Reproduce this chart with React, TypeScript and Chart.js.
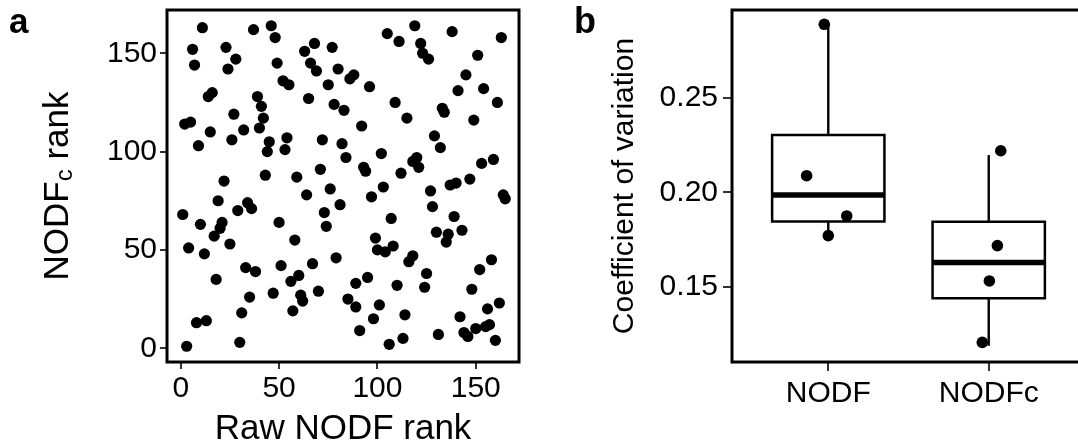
import { useEffect, useRef } from 'react';
import { Chart, registerables } from 'chart.js';

Chart.register(...registerables);

const FONT = "'Liberation Sans', Arial, Helvetica, sans-serif";

// ---- Panel a: rank vs rank ----
const rawRank = [
  11, 37, 46, 48, 6, 23, 28, 7, 24, 49, 68, 63, 77, 66, 69, 80, 88, 86, 52, 55,
  75, 14, 16, 39, 41, 42, 65, 78, 83, 27, 2, 5, 15, 32, 40, 92, 9, 26, 45, 44,
  54, 53, 72, 82, 84, 93, 71, 22, 43, 59,
  64, 76, 81, 19, 34, 36, 29, 1, 10, 21, 20, 17, 50, 73, 74, 25, 58, 4, 12, 79,
  33, 38, 51, 67, 60, 56, 18, 47, 35, 61, 62, 70, 89, 85, 89, 91, 31, 57, 8, 13,
  3, 30,
  105, 111, 119, 122, 123, 126, 138, 163, 151, 145, 96, 141, 154, 161, 109, 133,
  134, 115, 149, 129, 132, 102, 94, 118, 120, 121, 112, 153, 159, 147, 137, 140,
  103,
  97, 127, 128, 164, 165, 107, 139, 130, 136, 135, 143, 99, 100, 104, 108, 118,
  116, 125, 124, 110, 95, 101, 98, 106, 113, 114, 131, 158, 152, 148, 162, 156,
  142, 144, 146, 150, 155, 157, 160,
];
const correctedRank = [
  163, 162, 164, 158, 152, 153, 147, 144, 142, 145, 155, 151, 153, 145, 141, 142,
  139, 137, 136, 134, 134, 128, 130, 128, 123, 117, 127, 124, 121, 119, 114, 115,
  110, 111, 112, 113, 103, 106, 105, 100, 107, 101, 106, 104, 97, 92, 91, 85, 88,
  87,
  78, 81, 73, 75, 74, 71, 70, 68, 63, 64, 61, 57, 64, 69, 62, 53, 55, 51, 48, 46,
  41, 39, 42, 43, 37, 34, 35, 28, 26, 27, 24, 29, 33, 25, 21, 9, 18, 19, 13, 14,
  1, 3,
  160, 156, 164, 155, 150, 147, 161, 158, 149, 139, 133, 131, 132, 125, 125, 122,
  120, 117, 116, 108, 102, 99, 90, 95, 97, 92, 89, 94, 96, 86, 83, 84, 82,
  77, 80, 72, 78, 76, 66, 67, 59, 58, 54, 60, 56, 50, 49, 52, 47, 44, 38, 31, 32,
  36, 22, 15, 2, 5, 17, 7, 45, 40, 30, 23, 20, 16, 8, 6, 10, 11, 12, 4,
];
const rankTicks = [0, 50, 100, 150];

// ---- Panel b: coefficient of variation ----
const groups = ['NODF', 'NODFc'];
const cvTicks = [0.15, 0.2, 0.25];
const lowerWhisker = [0.1774, 0.1188];
const q1 = [0.1845, 0.1439];
const median = [0.1986, 0.1628];
const q3 = [0.2303, 0.1844];
const upperWhisker = [0.2887, 0.2197];
const pointGroup = [0, 0, 0, 0, 1, 1, 1, 1];
const pointJitter = [-0.025, -0.135, 0.115, 0, 0.075, 0.054, 0.004, -0.04];
const pointCV = [0.2889, 0.2088, 0.1875, 0.1771, 0.222, 0.1718, 0.1531, 0.1206];

const BOX_HALF = 0.35;

function framePlugin(id: string, lineWidth: number) {
  return {
    id,
    afterDatasetsDraw(chart: any) {
      const { ctx, chartArea: a } = chart;
      ctx.save();
      ctx.strokeStyle = '#000';
      ctx.lineWidth = lineWidth;
      ctx.strokeRect(a.left, a.top, a.right - a.left, a.bottom - a.top);
      ctx.restore();
    },
  };
}

function fixSize(dim: 'width' | 'height', size: number) {
  return (s: any) => {
    s[dim] = size;
    s.paddingTop = 0;
    s.paddingBottom = 0;
    s.paddingLeft = 0;
    s.paddingRight = 0;
  };
}

function RankPanel() {
  const ref = useRef<HTMLCanvasElement>(null);
  useEffect(() => {
    const canvas = ref.current!;
    const titles = {
      id: 'titlesA',
      afterDraw(chart: any) {
        const { ctx, chartArea: a } = chart;
        ctx.save();
        ctx.fillStyle = '#000';
        ctx.textBaseline = 'alphabetic';
        ctx.font = `35px ${FONT}`;
        ctx.textAlign = 'center';
        ctx.fillText('Raw NODF rank', (a.left + a.right) / 2, 439);
        ctx.save();
        ctx.translate(68, (a.top + a.bottom) / 2);
        ctx.rotate(-Math.PI / 2);
        ctx.textAlign = 'left';
        const big = `35px ${FONT}`;
        const small = `24px ${FONT}`;
        ctx.font = big;
        const w1 = ctx.measureText('NODF').width;
        const w3 = ctx.measureText(' rank').width;
        ctx.font = small;
        const w2 = ctx.measureText('c').width;
        let x = -(w1 + w2 + w3) / 2;
        ctx.font = big;
        ctx.fillText('NODF', x, 0);
        x += w1;
        ctx.font = small;
        ctx.fillText('c', x, 4);
        x += w2;
        ctx.font = big;
        ctx.fillText(' rank', x, 0);
        ctx.restore();
        ctx.font = `bold 35px ${FONT}`;
        ctx.textAlign = 'left';
        ctx.fillText('a', 9, 33);
        ctx.restore();
      },
    };
    const chart = new Chart(canvas, {
      type: 'scatter',
      data: {
        datasets: [
          {
            data: rawRank.map((x, i) => ({ x, y: correctedRank[i] })),
            pointRadius: 5.6,
            pointHoverRadius: 5.6,
            pointBackgroundColor: '#000',
            pointBorderColor: '#000',
            pointBorderWidth: 0,
          },
        ],
      },
      options: {
        responsive: false,
        animation: false,
        events: [],
        layout: { padding: { left: 0, top: 10, right: 41, bottom: 0 } },
        plugins: { legend: { display: false }, tooltip: { enabled: false } },
        scales: {
          x: {
            type: 'linear',
            min: -7,
            max: 172,
            afterBuildTicks: (s: any) => {
              s.ticks = rankTicks.map((value) => ({ value }));
            },
            afterFit: fixSize('height', 82),
            grid: { drawOnChartArea: false, drawTicks: true, tickLength: 7, tickWidth: 2, lineWidth: 2, color: '#333' },
            border: { display: false },
            ticks: { font: { family: FONT, size: 30 }, color: '#000', padding: 2, maxRotation: 0, autoSkip: false },
          },
          y: {
            type: 'linear',
            min: -7,
            max: 172,
            afterBuildTicks: (s: any) => {
              s.ticks = rankTicks.map((value) => ({ value }));
            },
            afterFit: fixSize('width', 167),
            grid: { drawOnChartArea: false, drawTicks: true, tickLength: 7, tickWidth: 2, lineWidth: 2, color: '#333' },
            border: { display: false },
            ticks: { font: { family: FONT, size: 30 }, color: '#000', padding: 3, autoSkip: false },
          },
        },
      },
      plugins: [framePlugin('frameA', 3), titles],
    } as any);
    return () => chart.destroy();
  }, []);
  return (
    <canvas
      ref={ref}
      width={560}
      height={444}
      style={{ position: 'absolute', left: 0, top: 0, width: 560, height: 444 }}
    />
  );
}

function CVPanel() {
  const ref = useRef<HTMLCanvasElement>(null);
  useEffect(() => {
    const canvas = ref.current!;
    const titles = {
      id: 'titlesB',
      afterDraw(chart: any) {
        const { ctx, chartArea: a } = chart;
        ctx.save();
        ctx.fillStyle = '#000';
        ctx.textBaseline = 'alphabetic';
        ctx.save();
        ctx.translate(73, (a.top + a.bottom) / 2);
        ctx.rotate(-Math.PI / 2);
        ctx.textAlign = 'center';
        ctx.font = `30px ${FONT}`;
        ctx.fillText('Coefficient of variation', 0, 0);
        ctx.restore();
        ctx.font = `bold 36px ${FONT}`;
        ctx.textAlign = 'left';
        ctx.fillText('b', 14, 33);
        ctx.restore();
      },
    };
    const lineStyle = {
      showLine: true,
      pointRadius: 0,
      pointHoverRadius: 0,
      borderColor: '#000',
      fill: false,
      tension: 0,
      order: 2,
    };
    const boxes = groups.map((_, i) => {
      const c = i + 1;
      return {
        ...lineStyle,
        borderWidth: 2.5,
        borderCapStyle: 'square',
        borderJoinStyle: 'miter',
        data: [
          { x: c - BOX_HALF, y: q1[i] },
          { x: c + BOX_HALF, y: q1[i] },
          { x: c + BOX_HALF, y: q3[i] },
          { x: c - BOX_HALF, y: q3[i] },
          { x: c - BOX_HALF, y: q1[i] },
        ],
      };
    });
    const medians = groups.map((_, i) => {
      const c = i + 1;
      return {
        ...lineStyle,
        borderWidth: 5.5,
        borderCapStyle: 'butt',
        data: [
          { x: c - BOX_HALF, y: median[i] },
          { x: c + BOX_HALF, y: median[i] },
        ],
      };
    });
    const upper = groups.map((_, i) => ({
      ...lineStyle,
      borderWidth: 2.4,
      borderCapStyle: 'butt',
      data: [
        { x: i + 1, y: q3[i] },
        { x: i + 1, y: upperWhisker[i] },
      ],
    }));
    const lower = groups.map((_, i) => ({
      ...lineStyle,
      borderWidth: 2.4,
      borderCapStyle: 'butt',
      data: [
        { x: i + 1, y: q1[i] },
        { x: i + 1, y: lowerWhisker[i] },
      ],
    }));
    const points = {
      data: pointCV.map((y, i) => ({ x: pointGroup[i] + 1 + pointJitter[i], y })),
      pointRadius: 5.8,
      pointHoverRadius: 5.8,
      pointBackgroundColor: '#000',
      pointBorderColor: '#000',
      pointBorderWidth: 0,
      order: 0,
    };
    const chart = new Chart(canvas, {
      type: 'scatter',
      data: { datasets: [points, ...boxes, ...medians, ...upper, ...lower] },
      options: {
        responsive: false,
        animation: false,
        events: [],
        layout: { padding: { left: 0, top: 10, right: 15, bottom: 0 } },
        plugins: { legend: { display: false }, tooltip: { enabled: false } },
        scales: {
          x: {
            type: 'linear',
            min: 0.4,
            max: 2.6,
            afterBuildTicks: (s: any) => {
              s.ticks = groups.map((_, i) => ({ value: i + 1 }));
            },
            afterFit: fixSize('height', 82),
            grid: { drawOnChartArea: false, drawTicks: true, tickLength: 9, tickWidth: 2, lineWidth: 2, color: '#333' },
            border: { display: false },
            ticks: {
              font: { family: FONT, size: 30 },
              color: '#000',
              padding: 5,
              maxRotation: 0,
              autoSkip: false,
              callback: (v: any) => groups[Math.round(Number(v)) - 1] ?? '',
            },
          },
          y: {
            type: 'linear',
            min: 0.11022,
            max: 0.29646,
            afterBuildTicks: (s: any) => {
              s.ticks = cvTicks.map((value) => ({ value }));
            },
            afterFit: fixSize('width', 172),
            grid: { drawOnChartArea: false, drawTicks: true, tickLength: 9, tickWidth: 2, lineWidth: 2, color: '#333' },
            border: { display: false },
            ticks: {
              font: { family: FONT, size: 30 },
              color: '#000',
              padding: 5,
              autoSkip: false,
              callback: (v: any) => Number(v).toFixed(2),
            },
          },
        },
      },
      plugins: [framePlugin('frameB', 3), titles],
    } as any);
    return () => chart.destroy();
  }, []);
  return (
    <canvas
      ref={ref}
      width={540}
      height={444}
      style={{ position: 'absolute', left: 560, top: 0, width: 540, height: 444 }}
    />
  );
}

export default function App() {
  return (
    <div
      style={{
        position: 'fixed',
        left: 0,
        top: 0,
        width: 1078,
        height: 444,
        overflow: 'hidden',
        background: '#fff',
      }}
    >
      <RankPanel />
      <CVPanel />
    </div>
  );
}
